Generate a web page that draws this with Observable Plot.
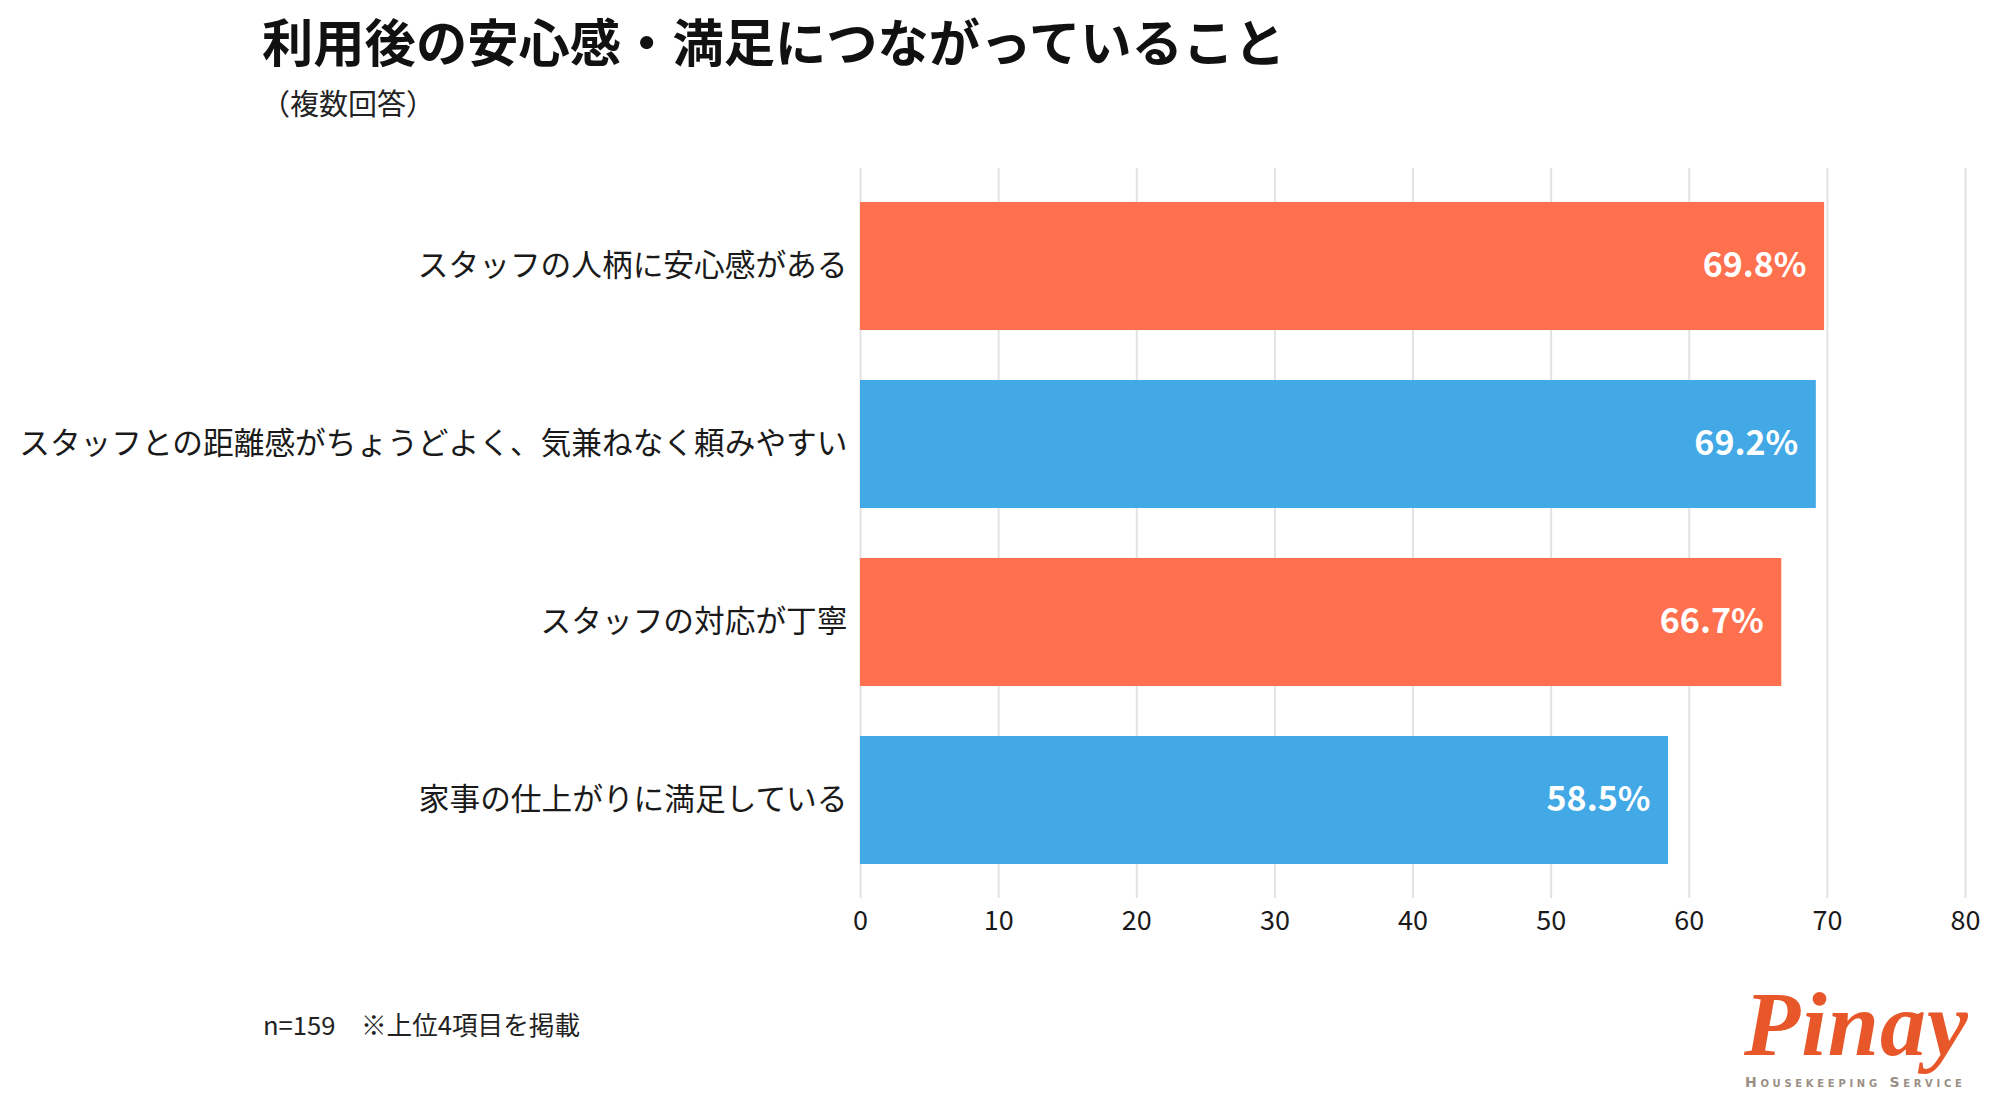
<!DOCTYPE html>
<html>
<head>
<meta charset="utf-8">
<script src="https://cdn.jsdelivr.net/npm/d3@7"></script>
<script src="https://cdn.jsdelivr.net/npm/@observablehq/plot@0.6"></script>
<style>
  html, body { margin: 0; padding: 0; background: #fff; }
  #page { position: relative; width: 1999px; height: 1106px; overflow: hidden; font-family: "Noto Sans CJK JP", "Noto Sans", sans-serif; color: #1a1a1a; }
  .abs { position: absolute; line-height: 1; white-space: nowrap; }
  #title { left: 262px; top: 14px; font-size: 51.3px; font-weight: 700; color: #111; }
  #subtitle { left: 261px; top: 88px; font-size: 29px; color: #222; }
  #chart { position: absolute; left: 0; top: 140px; }
  #note { left: 263px; top: 1011px; font-size: 25.6px; color: #222; }
  #logo { left: 1744px; top: 978px; font-family: "Liberation Serif", "DejaVu Serif", serif; font-style: italic; font-weight: 700; font-size: 92px; color: #E8572A; letter-spacing: 1px; }
  #logosub { left: 1745px; top: 1075px; font-family: "DejaVu Sans", sans-serif; font-variant: small-caps; font-weight: 700; font-size: 14px; color: #9a8f85; letter-spacing: 3.7px; }
</style>
</head>
<body>
<div id="page">
  <div id="title" class="abs"></div>
  <div id="subtitle" class="abs"></div>
  <div id="chart"></div>
  <div id="note" class="abs"></div>
  <div id="logo" class="abs"></div>
  <div id="logosub" class="abs"></div>
</div>
<script>
const titleText = "利用後の安心感・満足につながっていること";
const subtitleText = "（複数回答）";
const noteText = "n=159　※上位4項目を掲載";
const logoText = "Pinay";
const logoSubText = "Housekeeping Service";

const categories = [
  "スタッフの人柄に安心感がある",
  "スタッフとの距離感がちょうどよく、気兼ねなく頼みやすい",
  "スタッフの対応が丁寧",
  "家事の仕上がりに満足している"
];
const values = [69.8, 69.2, 66.7, 58.5];
const xTicks = [0, 10, 20, 30, 40, 50, 60, 70, 80];

const palette = ["#FF704E", "#42A9E6", "#FF704E", "#42A9E6"];

document.getElementById("title").textContent = titleText;
document.getElementById("subtitle").textContent = subtitleText;
document.getElementById("note").textContent = noteText;
document.getElementById("logo").textContent = logoText;
document.getElementById("logosub").textContent = logoSubText;

const data = categories.map((c, i) => ({ category: c, value: values[i] }));

const chart = Plot.plot({
  width: 1999,
  height: 800,
  marginLeft: 860,
  marginRight: 34,
  marginTop: 28,
  marginBottom: 42,
  style: { fontFamily: "'Noto Sans CJK JP', 'Noto Sans', sans-serif", background: "transparent", color: "#1a1a1a" },
  x: { domain: [0, 80], ticks: xTicks, label: null },
  y: { domain: categories, paddingInner: 0.279, paddingOuter: 0.179, label: null },
  color: { type: "ordinal", domain: categories, range: palette },
  marks: [
    Plot.gridX(xTicks, { stroke: "#e2e2e2", strokeWidth: 2, strokeOpacity: 1 }),
    Plot.barX(data, { x: "value", y: "category", fill: "category" }),
    Plot.text(data, {
      x: "value", y: "category",
      text: d => d.value.toFixed(1) + "%",
      textAnchor: "end", dx: -18,
      fill: "white", fontSize: 34, fontWeight: "bold"
    }),
    Plot.axisX({ ticks: xTicks, tickSize: 0, tickPadding: 12, fontSize: 27, label: null }),
    Plot.axisY({ tickSize: 0, tickPadding: 13, fontSize: 30.7, label: null })
  ]
});
document.getElementById("chart").appendChild(chart);
</script>
</body>
</html>
